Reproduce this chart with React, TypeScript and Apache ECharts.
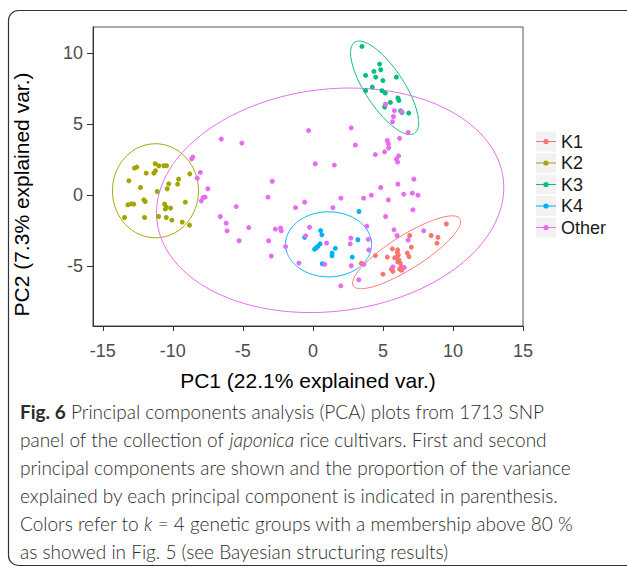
import React, { useEffect, useRef } from "react";
import * as echarts from "echarts";

const groupNames = ["K1", "K2", "K3", "K4", "Other"];
const groupColors = ["#F8766D", "#A3A500", "#00BF7D", "#00B0F6", "#E76BF3"];

const k1Points: number[][] = [
  [9.53, -2.02], [8.44, -2.83], [8.93, -2.96], [8.86, -3.37], [6.91, -2.83],
  [7.03, -3.65], [6.74, -4.07], [6.86, -4.31], [5.67, -3.77], [6.05, -3.84],
  [6.03, -4.03], [6.1, -4.21], [5.96, -4.35], [6.14, -4.54], [6.24, -4.77],
  [6.31, -5.01], [6.19, -5.2], [6.05, -4.68], [6.34, -5.28], [5.31, -4.35],
  [4.46, -4.24], [5.0, -5.55], [5.6, -5.21], [5.71, -5.35], [3.46, -4.79], [5.84, -4.4],
];
const k2Points: number[][] = [
  [-12.74, 1.92], [-12.57, 1.99], [-11.26, 2.22], [-11.0, 2.08], [-10.64, 2.08],
  [-10.45, 2.08], [-11.9, 1.56], [-11.36, 1.56], [-11.24, 1.73], [-13.14, 1.02],
  [-12.31, 0.55], [-11.11, 0.27], [-10.4, 0.46], [-10.29, 0.81], [-9.59, 1.14],
  [-9.66, 0.79], [-8.79, 1.51], [-13.21, -0.67], [-12.97, -0.6], [-12.79, -0.62],
  [-12.07, -0.32], [-11.97, -0.44], [-10.59, -0.62], [-10.47, -0.83], [-10.16, -0.9],
  [-10.54, -0.97], [-9.11, -0.48], [-13.45, -1.56], [-12.02, -1.56], [-11.02, -1.49],
  [-10.47, -1.56], [-10.07, -1.75], [-9.33, -1.89], [-8.81, -2.1],
];
const k3Points: number[][] = [
  [3.5, 10.48], [4.76, 9.24], [4.84, 8.84], [4.36, 8.72], [3.76, 8.44],
  [4.48, 8.32], [5.0, 8.08], [5.96, 8.32], [4.24, 7.62], [3.76, 7.36],
  [4.93, 7.36], [5.17, 7.2], [6.07, 6.85], [6.14, 6.68], [5.53, 6.54],
  [5.17, 6.37], [5.12, 6.21], [6.26, 5.95], [6.36, 5.83], [6.84, 5.79],
];
const k4Points: number[][] = [
  [3.29, -1.14], [0.55, -2.48], [0.64, -2.78], [-0.59, -2.96], [3.21, -3.13],
  [0.51, -3.42], [0.36, -3.59], [0.12, -3.79], [1.6, -3.73], [1.37, -4.08],
  [1.36, -4.26], [2.81, -4.35], [0.67, -4.82], [0.23, -3.7],
];
const otherPoints: number[][] = [
  [-6.54, 3.96], [-5.07, 3.68], [-8.57, 2.69], [-8.66, 2.57], [-8.04, 1.61],
  [-8.26, 1.21], [-7.5, 0.46], [-7.7, -0.13], [-7.84, -0.15], [-7.97, -0.39],
  [-2.9, 0.99], [-3.21, -0.13], [-5.47, -0.79], [-6.61, -1.49], [-6.19, -1.96],
  [-6.13, -2.5], [-4.58, -2.27], [-2.68, -2.38], [-2.31, -2.31], [-2.26, -2.5],
  [-5.27, -3.2], [-3.16, -3.2], [-1.95, -3.61], [-2.97, -4.28], [-1.24, -0.87],
  [-0.59, -0.48], [-1.0, -4.77], [-0.31, 4.56], [2.74, 4.75], [3.03, 3.54],
  [0.17, 2.22], [1.53, 2.13], [4.46, 2.87], [5.31, 3.86], [5.39, 3.63],
  [5.41, 3.35], [5.12, 3.06], [6.19, 4.01], [6.12, 2.78], [5.96, 2.55],
  [6.05, 2.34], [6.8, 4.42], [7.21, 1.14], [5.19, 6.41], [5.82, 5.96],
  [6.34, 5.89], [5.75, 5.55], [5.68, 5.18], [4.84, 0.55], [6.07, 0.79],
  [6.48, 0.08], [7.1, 0.15], [7.5, 0.01], [2.0, -0.2], [3.62, -0.2],
  [4.17, 0.01], [5.39, -0.32], [1.43, -0.87], [7.14, -1.02], [5.19, -1.49],
  [-0.24, -2.25], [-0.52, -2.85], [3.85, -2.17], [5.79, -2.43], [6.01, -2.83],
  [7.91, -2.5], [6.8, -3.15], [2.71, -3.01], [2.66, -3.42], [3.96, -3.1],
  [0.98, -3.37], [3.99, -3.84], [0.84, -4.85], [2.74, -4.96], [3.64, -4.85],
  [5.71, -5.04], [6.52, -5.08], [3.28, -5.95], [1.99, -6.37],
];
const groupPoints = [k1Points, k2Points, k3Points, k4Points, otherPoints];

// 95% data ellipses: centre, semi-axes, rotation (deg)
const ellipseCx = [6.69, -11.24, 5.12, 1.12, 1.23];
const ellipseCy = [-4.01, 0.32, 7.57, -3.45, -0.35];
const ellipseA = [4.48, 3.07, 3.85, 3.07, 12.45];
const ellipseB = [1.18, 3.31, 1.38, 2.29, 7.82];
const ellipseAngle = [31.8, 0, -56.2, 0, 6.8];

const xTicks = [-15, -10, -5, 0, 5, 10, 15];
const yTicks = [-5, 0, 5, 10];

const xTitle = "PC1 (22.1% explained var.)";
const yTitle = "PC2 (7.3% explained var.)";

const captionLines = [
  "{b|Fig. 6} Principal components analysis (PCA) plots from 1713 SNP",
  "panel of the collection of {i|japonica} rice cultivars. First and second",
  "principal components are shown and the proportion of the variance",
  "explained by each principal component is indicated in parenthesis.",
  "Colors refer to {i|k} = 4 genetic groups with a membership above 80 %",
  "as showed in Fig. 5 (see Bayesian structuring results)",
];

function ellipseOutline(i: number): number[][] {
  const pts: number[][] = [];
  const th = (ellipseAngle[i] * Math.PI) / 180;
  const n = 180;
  for (let k = 0; k <= n; k++) {
    const t = (2 * Math.PI * k) / n;
    const u = ellipseA[i] * Math.cos(t);
    const v = ellipseB[i] * Math.sin(t);
    pts.push([
      ellipseCx[i] + u * Math.cos(th) - v * Math.sin(th),
      ellipseCy[i] + u * Math.sin(th) + v * Math.cos(th),
    ]);
  }
  return pts;
}

const axisFont = "'Liberation Sans', Arial, sans-serif";
const captionFont = "Lato, 'Open Sans', sans-serif";
const captionColor = "#2b2b2b";

export default function App() {
  const ref = useRef<HTMLDivElement>(null);
  useEffect(() => {
    if (!ref.current) return;
    const chart = echarts.init(ref.current, undefined, { renderer: "svg" });

    const keyIcon =
      "path://M0,0h0.1v0.1h-0.1z M19.9,20.9h0.1v0.1h-0.1z M0,9.9h20v1.2H0z M12.6,10.5A2.6,2.6,0,1,1,7.4,10.5A2.6,2.6,0,1,1,12.6,10.5z";

    const legendTop = 131;
    const legendItemH = 21;
    const legendGap = 0.5;

    const scatterSeries = groupNames.map((name, i) => ({
      type: "scatter",
      name,
      data: groupPoints[i],
      symbolSize: 5,
      itemStyle: { color: groupColors[i], opacity: 1 },
      z: i === 4 ? 4 : 3,
      silent: true,
    }));
    const ellipseSeries = groupNames.map((name, i) => ({
      type: "line",
      name,
      data: ellipseOutline(i),
      showSymbol: false,
      symbol: "none",
      smooth: false,
      lineStyle: { color: groupColors[i], width: 1 },
      itemStyle: { color: groupColors[i] },
      z: 2,
      silent: true,
    }));

    const rich = {
      b: { fontWeight: "bold", fontSize: 19, fontFamily: captionFont, fill: captionColor },
      i: { fontStyle: "italic", fontWeight: 300, fontSize: 19, fontFamily: captionFont, fill: captionColor },
    };

    chart.setOption({
      animation: false,
      backgroundColor: "#ffffff",
      grid: {
        left: 93,
        top: 27,
        width: 430,
        height: 299,
        show: true,
        borderColor: "#555555",
        borderWidth: 1,
        backgroundColor: "#ffffff",
        containLabel: false,
        outerBoundsMode: "none",
      },
      xAxis: {
        type: "value",
        min: -15.7,
        max: 15,
        name: xTitle,
        nameLocation: "middle",
        nameGap: 44,
        nameTextStyle: { fontSize: 21, color: "#000", fontFamily: axisFont },
        axisLine: { show: true, onZero: false, lineStyle: { color: "#333", width: 1 } },
        axisTick: { show: true, length: 5, customValues: xTicks, lineStyle: { color: "#333" } },
        axisLabel: { customValues: xTicks, fontSize: 18, color: "#4d4d4d", margin: 16, fontFamily: axisFont },
        splitLine: { show: false },
      },
      yAxis: {
        type: "value",
        min: -9.2,
        max: 11.85,
        name: yTitle,
        nameLocation: "middle",
        nameGap: 61,
        nameRotate: 90,
        nameTextStyle: { fontSize: 21, color: "#000", fontFamily: axisFont, padding: [0, 36, 0, 0] },
        axisLine: { show: true, onZero: false, lineStyle: { color: "#333", width: 1 } },
        axisTick: { show: true, length: 6, customValues: yTicks, lineStyle: { color: "#333" } },
        axisLabel: { customValues: yTicks, fontSize: 18, color: "#4d4d4d", margin: 10, fontFamily: axisFont },
        splitLine: { show: false },
      },
      legend: {
        orient: "vertical",
        left: 536,
        top: legendTop,
        padding: 0,
        itemWidth: 20,
        itemHeight: legendItemH,
        itemGap: legendGap,
        selectedMode: false,
        z: 5,
        textStyle: { fontSize: 18, color: "#1a1a1a", fontFamily: axisFont },
        data: groupNames.map((n) => ({ name: n, icon: keyIcon })),
      },
      graphic: [
        {
          type: "rect",
          silent: true,
          z: 0,
          shape: { x: 8.5, y: 10.5, width: 700, height: 555, r: 10 },
          style: { fill: "none", stroke: "#333", lineWidth: 1.2 },
        },
        ...groupNames.map((_, i) => ({
          type: "rect",
          silent: true,
          z: 1,
          shape: {
            x: 536,
            y: legendTop + i * (legendItemH + legendGap) + 0.5,
            width: 20,
            height: legendItemH - 1,
          },
          style: { fill: "#f2f2f2" },
        })),
        ...captionLines.map((t, i) => ({
          type: "text",
          silent: true,
          z: 1,
          x: 20,
          y: 411 + i * 28,
          style: {
            text: t,
            rich,
            fontSize: 19,
            fontWeight: 300,
            fontFamily: captionFont,
            fill: captionColor,
            verticalAlign: "middle",
          },
        })),
      ],
      series: [...ellipseSeries, ...scatterSeries],
    });
    return () => chart.dispose();
  }, []);
  return (
    <div
      ref={ref}
      style={{ position: "absolute", left: 0, top: 0, width: 627, height: 567 }}
    />
  );
}
